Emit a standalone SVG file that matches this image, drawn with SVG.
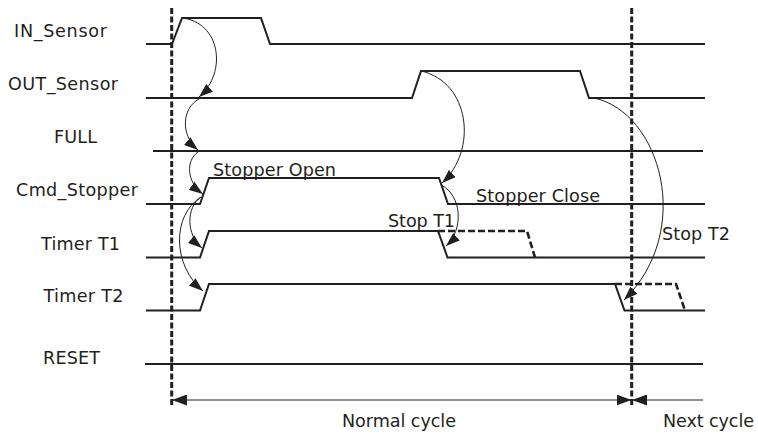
<svg xmlns="http://www.w3.org/2000/svg" width="758" height="434" viewBox="0 0 758 434">
  <style>
    .bg { fill: #ffffff; }
    .sig { fill: none; stroke: #231f20; stroke-width: 2; stroke-linejoin: miter; }
    .sig-dash { fill: none; stroke: #231f20; stroke-width: 2.6; stroke-dasharray: 7 3; }
    .marker-line { fill: none; stroke: #231f20; stroke-width: 3; stroke-dasharray: 6 2.5; }
    .link { fill: none; stroke: #231f20; stroke-width: 1; marker-end: url(#head); }
    .dim { fill: none; stroke: #231f20; stroke-width: 1.2; }
    text { font-family: "DejaVu Sans", Verdana, "Liberation Sans", sans-serif; font-size: 17.6px; fill: #231f20; }
  </style>
  <defs>
    <marker id="head" viewBox="0 0 14 10" refX="14" refY="5" markerWidth="14" markerHeight="10" markerUnits="userSpaceOnUse" orient="auto">
      <path d="M0,0 L14,5 L0,10 Z" fill="#231f20"/>
    </marker>
    <marker id="dimhead" viewBox="0 0 15 11" refX="15" refY="5.5" markerWidth="15" markerHeight="11" markerUnits="userSpaceOnUse" orient="auto-start-reverse">
      <path d="M0,0 L15,5.5 L0,11 Z" fill="#231f20"/>
    </marker>
  </defs>

  <rect class="bg" x="0" y="0" width="758" height="434"/>

  <!-- cycle boundaries -->
  <g id="cycle-marks">
    <line class="marker-line" x1="171.7" y1="8" x2="171.7" y2="407"/>
    <line class="marker-line" x1="631.7" y1="8" x2="631.7" y2="407"/>
  </g>

  <!-- signal traces -->
  <g id="in-sensor">
    <text x="14" y="36.5" textLength="93" lengthAdjust="spacing">IN_Sensor</text>
    <path class="sig" d="M146,44 H172 L182,18 H261 L270,44 H705"/>
  </g>
  <g id="out-sensor">
    <text x="8" y="89.5" textLength="110" lengthAdjust="spacing">OUT_Sensor</text>
    <path class="sig" d="M146,98 H412 L421,71 H580 L589,98 H705"/>
  </g>
  <g id="full">
    <text x="54" y="142.7" textLength="43" lengthAdjust="spacing">FULL</text>
    <path class="sig" d="M153,151 H703"/>
  </g>
  <g id="cmd-stopper">
    <text x="16" y="196" textLength="122" lengthAdjust="spacing">Cmd_Stopper</text>
    <path class="sig" d="M146,204 H200 L209,178 H439 L448,204 H705"/>
    <text x="213" y="176" textLength="123" lengthAdjust="spacing">Stopper Open</text>
    <text x="476" y="202" textLength="124" lengthAdjust="spacing">Stopper Close</text>
  </g>
  <g id="timer-t1">
    <text x="41" y="249.5" textLength="79" lengthAdjust="spacing">Timer T1</text>
    <path class="sig" d="M146,257.5 H200 L209,231 H438 L447.5,257.5 H705"/>
    <path class="sig-dash" d="M438,231 H527 L535,257.5"/>
    <text x="388" y="226.7" textLength="67" lengthAdjust="spacing">Stop T1</text>
  </g>
  <g id="timer-t2">
    <text x="43.5" y="302" textLength="80" lengthAdjust="spacing">Timer T2</text>
    <path class="sig" d="M146,310.5 H200 L209,284 H615 L624.5,310.5 H705"/>
    <path class="sig-dash" d="M615,284 H676 L685,310.5"/>
    <text x="662" y="240" textLength="68" lengthAdjust="spacing">Stop T2</text>
  </g>
  <g id="reset">
    <text x="43" y="364" textLength="57" lengthAdjust="spacing">RESET</text>
    <path class="sig" d="M145,364 H703"/>
  </g>

  <!-- cause/effect arrows and cycle dimensions -->
  <g id="connectors">
    <path class="link" d="M182,18 C220,22 228,72 199,97"/>
    <path class="link" d="M199,99 C182,108 180,135 198,150"/>
    <path class="link" d="M198,152 C186,160 186,182 203,194"/>
    <path class="link" d="M201,197 C186,207 186,235 202,248"/>
    <path class="link" d="M201,197 C172,215 172,265 203,291"/>
    <path class="link" d="M421,71 C470,82 478,150 442,183"/>
    <path class="link" d="M441,185 C462,195 464,230 446,246"/>
    <path class="link" d="M594,98 C660,112 695,230 624,300"/>

    <path class="dim" d="M172,400 H631.5" marker-start="url(#dimhead)" marker-end="url(#dimhead)"/>
    <path class="dim" d="M703,400 H632" marker-end="url(#dimhead)"/>
  </g>

  <g id="cycle-labels">
    <text x="342" y="427" textLength="114" lengthAdjust="spacing">Normal cycle</text>
    <text x="663" y="427" textLength="91" lengthAdjust="spacing">Next cycle</text>
  </g>
</svg>
